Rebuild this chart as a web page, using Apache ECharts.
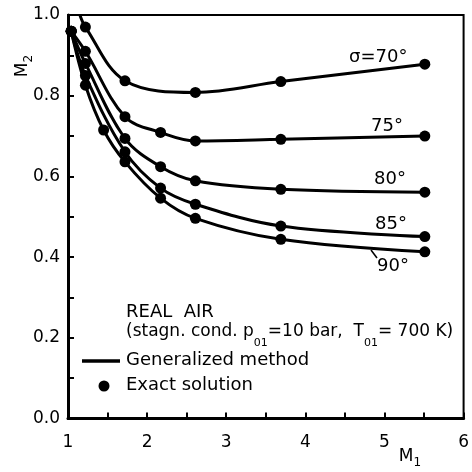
<!DOCTYPE html>
<html><head><meta charset="utf-8">
<script src="https://cdn.jsdelivr.net/npm/echarts@6/dist/echarts.min.js"></script>
<style>html,body{margin:0;padding:0;background:#fff}#c{width:472px;height:472px}</style>
</head><body><div id="c"></div>
<script>
// Tick labels
const xTickLabels = [1, 2, 3, 4, 5, 6];
const yTickLabels = ['0.0', '0.2', '0.4', '0.6', '0.8', '1.0'];
// Curve labels
const curveLabels = ['σ=70°', '75°', '80°', '85°', '90°'];
// Legend entries
const legendNames = ['Generalized method', 'Exact solution'];
// Exact solution points (M1, M2) per sigma
const m1_70 = [1.22, 1.72, 2.61, 3.69, 5.51];
const m2_70 = [0.970, 0.837, 0.808, 0.835, 0.878];
const m1_75 = [1.04, 1.22, 1.72, 2.17, 2.61, 3.69, 5.51];
const m2_75 = [0.960, 0.910, 0.748, 0.709, 0.688, 0.692, 0.700];
const m1_80 = [1.04, 1.22, 1.72, 2.17, 2.61, 3.69, 5.51];
const m2_80 = [0.960, 0.880, 0.694, 0.624, 0.589, 0.568, 0.561];
const m1_85 = [1.04, 1.22, 1.72, 2.17, 2.61, 3.69, 5.51];
const m2_85 = [0.960, 0.850, 0.661, 0.571, 0.531, 0.477, 0.451];
const m1_90 = [1.04, 1.22, 1.45, 1.72, 2.17, 2.61, 3.69, 5.51];
const m2_90 = [0.960, 0.826, 0.715, 0.636, 0.546, 0.496, 0.444, 0.413];
// Where the 70° generalized-method curve enters the frame
const start70 = [1.15, 1.00];

const FONT = "'DejaVu Sans', sans-serif";
const zip = (a, b) => a.map((v, i) => [v, b[i]]);
const exactSets = [zip(m1_70, m2_70), zip(m1_75, m2_75), zip(m1_80, m2_80), zip(m1_85, m2_85), zip(m1_90, m2_90)];
const lineSets = exactSets.map((s, i) => i === 0 ? [start70].concat(s) : s);

const series = [];
lineSets.forEach(d => series.push({
  name: legendNames[0], type: 'line', data: d, smooth: 0.35,
  symbol: 'none', lineStyle: { color: '#000', width: 3 }, itemStyle: { color: '#000' }, z: 2
}));
exactSets.forEach(d => series.push({
  name: legendNames[1], type: 'scatter', data: d, symbol: 'circle', symbolSize: 11,
  itemStyle: { color: '#000', opacity: 1 }, z: 3
}));

const chart = echarts.init(document.getElementById('c'), null, { renderer: 'canvas' });
const rich = {
  n: { fontSize: 17, fontFamily: FONT, color: '#000', lineHeight: 34 },
  s: { fontSize: 11, fontFamily: FONT, color: '#000', lineHeight: 34, verticalAlign: 'bottom' }
};
const richAxis = {
  n: { fontSize: 17, fontFamily: FONT, color: '#000', lineHeight: 24 },
  s: { fontSize: 12, fontFamily: FONT, color: '#000', lineHeight: 24, verticalAlign: 'bottom' }
};
const labelPos = [[349, 58], [371, 127], [374, 180], [375, 225], [377, 267]];
const graphics = curveLabels.map((t, i) => ({
  type: 'text', left: labelPos[i][0], top: labelPos[i][1] - 10,
  style: { text: t, fontSize: 18, fontFamily: FONT, fill: '#000' }
}));
graphics.push({ type: 'line', shape: { x1: 371, y1: 250, x2: 377, y2: 258 }, style: { stroke: '#000', lineWidth: 1.5 } });
graphics.push({ type: 'text', left: 126, top: 303, style: { text: 'REAL  AIR', fontSize: 18, fontFamily: FONT, fill: '#000' } });
graphics.push({ type: 'text', left: 126, top: 323, style: {
  text: '{n|(stagn. cond. p}{s|01}{n|=10 bar,  T}{s|01}{n|= 700 K)}', rich: rich } });
graphics.push({ type: 'text', x: 23, y: 66, rotation: Math.PI / 2, style: {
  text: '{n|M}{s|2}', rich: richAxis, align: 'center', verticalAlign: 'middle' } });
graphics.push({ type: 'text', x: 410, y: 457, style: {
  text: '{n|M}{s|1}', rich: richAxis, align: 'center', verticalAlign: 'middle' } });
// Legend
graphics.push({ type: 'line', shape: { x1: 82, y1: 361, x2: 120, y2: 361 }, style: { stroke: '#000', lineWidth: 3.5 } });
graphics.push({ type: 'circle', shape: { cx: 104, cy: 386, r: 5.5 }, style: { fill: '#000' } });
graphics.push({ type: 'text', left: 126, top: 351, style: { text: legendNames[0], fontSize: 18, fontFamily: FONT, fill: '#000' } });
graphics.push({ type: 'text', left: 126, top: 376, style: { text: legendNames[1], fontSize: 18, fontFamily: FONT, fill: '#000' } });

chart.setOption({
  animation: false,
  backgroundColor: '#fff',
  grid: { left: 68, right: 8, top: 15, bottom: 53.5, show: true, borderColor: '#000', borderWidth: 2 },
  xAxis: {
    type: 'value', min: 1, max: 6, interval: 0.5,
    axisLine: { lineStyle: { color: '#000', width: 3 } },
    axisTick: { inside: true, length: 6, lineStyle: { color: '#000', width: 2 } },
    splitLine: { show: false },
    axisLabel: { color: '#000', fontSize: 17, fontFamily: FONT, margin: 16,
      formatter: v => (xTickLabels.indexOf(v) >= 0 ? String(v) : '') }
  },
  yAxis: {
    type: 'value', min: 0, max: 1, interval: 0.1,
    axisLine: { lineStyle: { color: '#000', width: 3 } },
    axisTick: { inside: true, length: 6, lineStyle: { color: '#000', width: 2 } },
    splitLine: { show: false },
    axisLabel: { color: '#000', fontSize: 17, fontFamily: FONT, margin: 8,
      formatter: v => { const s = v.toFixed(1); return yTickLabels.indexOf(s) >= 0 ? s : ''; } }
  },
  series: series,
  graphic: graphics
});
</script></body></html>
